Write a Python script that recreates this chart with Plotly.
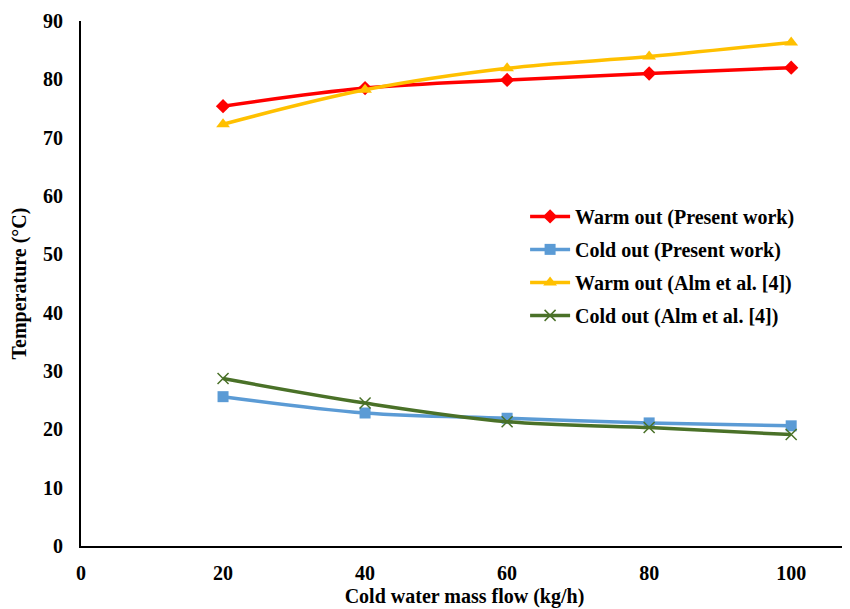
import plotly.graph_objects as go

x_flow = [20, 40, 60, 80, 100]
warm_present = [75.4, 78.5, 79.9, 81.0, 82.0]
cold_present = [25.6, 22.8, 21.9, 21.1, 20.6]
warm_alm = [72.3, 78.2, 81.9, 83.9, 86.3]
cold_alm = [28.7, 24.5, 21.3, 20.3, 19.1]

x_ticks = [0, 20, 40, 60, 80, 100]
y_ticks = [0, 10, 20, 30, 40, 50, 60, 70, 80, 90]

fig = go.Figure()
fig.add_trace(go.Scatter(x=x_flow, y=warm_present, name="<b>Warm out (Present work)</b>", legendgroup="a",
                         mode="lines+markers", line=dict(color="#FF0000", width=3.5, shape="spline"),
                         marker=dict(symbol="diamond", size=11, color="#FF0000")))
fig.add_trace(go.Scatter(x=x_flow, y=cold_present, name="<b>Cold out (Present work)</b>", legendgroup="b",
                         mode="lines+markers", line=dict(color="#5B9BD5", width=3.5, shape="spline"),
                         marker=dict(symbol="square", size=11, color="#5B9BD5")))
fig.add_trace(go.Scatter(x=x_flow, y=warm_alm, name="<b>Warm out (Alm et al. [4])</b>", legendgroup="c",
                         mode="lines+markers", line=dict(color="#FFC000", width=3.5, shape="spline"),
                         marker=dict(symbol="triangle-up", size=12, color="#FFC000")))
fig.add_trace(go.Scatter(x=x_flow, y=cold_alm, name="<b>Cold out (Alm et al. [4])</b>", legendgroup="d",
                         mode="lines+markers", line=dict(color="#4A7128", width=3.5, shape="spline"),
                         marker=dict(symbol="x-thin", size=11, line=dict(color="#4A7128", width=1.5))))

font_family = "'Liberation Serif', 'Times New Roman', serif"
fig.update_layout(
    width=850, height=609,
    margin=dict(l=73, r=10, t=13, b=71),
    plot_bgcolor="white", paper_bgcolor="white",
    font=dict(family=font_family, size=20, color="black"),
    showlegend=True,
    legend=dict(x=0.579, y=0.665, xanchor="left", yanchor="top",
                font=dict(family=font_family, size=20, color="black"),
                bgcolor="rgba(0,0,0,0)", itemwidth=40, tracegroupgap=4),
    xaxis=dict(range=[0, 108], tickvals=x_ticks, ticktext=[f"<b>{v}</b>" for v in x_ticks],
               showgrid=False, zeroline=False, showline=True, linecolor="black", linewidth=2,
               ticks="", ticklen=0, ticklabelstandoff=8, automargin=False,
               title=dict(text="<b>Cold water mass flow (kg/h)</b>", font=dict(size=20), standoff=6)),
    yaxis=dict(range=[0, 90], tickvals=y_ticks, ticktext=[f"<b>{v}</b>" for v in y_ticks],
               showgrid=False, zeroline=False, showline=True, linecolor="black", linewidth=2,
               ticks="", ticklen=0, ticklabelstandoff=12, automargin=False,
               title=dict(text="<b>Temperature (°C)</b>", font=dict(size=20), standoff=12)),
)

fig.write_html("out.html")
